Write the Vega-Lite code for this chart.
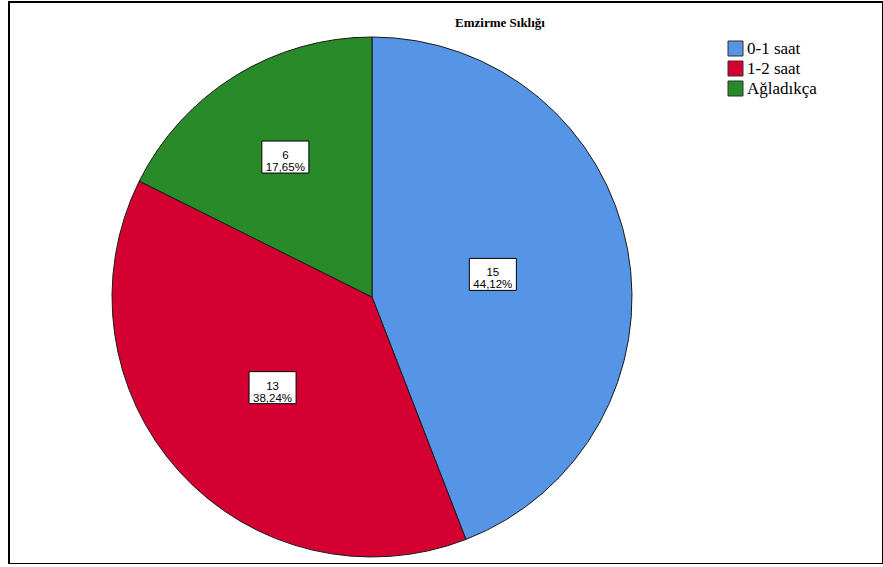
{
  "$schema": "https://vega.github.io/schema/vega-lite/v6.json",
  "autosize": {"type": "none"},
  "padding": {"left": 9, "top": 2, "right": 0, "bottom": 0},
  "width": 874,
  "height": 562,
  "background": "white",
  "title": {
    "text": "Emzirme Sıklığı",
    "font": "Liberation Serif",
    "fontSize": 13,
    "fontWeight": "bold",
    "color": "#000000",
    "anchor": "middle",
    "frame": "group",
    "baseline": "alphabetic",
    "offset": -38,
    "dx": 54
  },
  "data": {
    "values": [
      {"kategori": "0-1 saat", "sayi": 15},
      {"kategori": "1-2 saat", "sayi": 13},
      {"kategori": "Ağladıkça", "sayi": 6}
    ]
  },
  "transform": [
    {"joinaggregate": [{"op": "sum", "field": "sayi", "as": "toplam"}]},
    {"window": [{"op": "sum", "field": "sayi", "as": "kumulatif"}], "frame": [null, 0]},
    {"calculate": "2 * PI * (datum.kumulatif - datum.sayi) / datum.toplam", "as": "a0"},
    {"calculate": "2 * PI * datum.kumulatif / datum.toplam", "as": "a1"},
    {"calculate": "(datum.a0 + datum.a1) / 2", "as": "orta"},
    {"calculate": "datum.a1 - datum.a0", "as": "aci"},
    {"calculate": "4 * sin(datum.aci / 2) / (3 * datum.aci)", "as": "rm"},
    {"calculate": "datum.rm * sin(datum.orta)", "as": "lx"},
    {"calculate": "datum.rm * cos(datum.orta)", "as": "ly"},
    {"calculate": "replace(format(datum.sayi / datum.toplam * 100, '.2f'), '.', ',') + '%'", "as": "yuzde"},
    {"calculate": "[datum.sayi + '', datum.yuzde]", "as": "etiket"}
  ],
  "layer": [
    {
      "mark": {
        "type": "arc",
        "outerRadius": {"expr": "scale('x', 1) - scale('x', 0)"},
        "stroke": "#1a1a1a",
        "strokeWidth": 1
      },
      "encoding": {
        "x": {
          "datum": 0,
          "type": "quantitative",
          "scale": {"domain": [-1.3962, 1.9654], "nice": false, "zero": false},
          "axis": null
        },
        "y": {
          "datum": 0,
          "type": "quantitative",
          "scale": {"domain": [-1.0269, 1.1346], "nice": false, "zero": false},
          "axis": null
        },
        "theta": {"field": "a0", "type": "quantitative", "scale": null},
        "theta2": {"field": "a1"},
        "color": {
          "field": "kategori",
          "type": "nominal",
          "scale": {
            "domain": ["0-1 saat", "1-2 saat", "Ağladıkça"],
            "range": ["#5694e6", "#d50032", "#288a28"]
          },
          "legend": {
            "orient": "none",
            "legendX": 718,
            "legendY": 38,
            "title": null,
            "symbolType": "square",
            "symbolSize": 225,
            "symbolStrokeColor": "#333333",
            "symbolStrokeWidth": 1,
            "symbolOpacity": 1,
            "labelFont": "Liberation Serif",
            "labelFontSize": 17,
            "labelColor": "#000000",
            "labelOffset": 3,
            "rowPadding": 1
          }
        }
      }
    },
    {
      "mark": {
        "type": "point",
        "shape": "M-1.47,-1H1.47V1H-1.47Z",
        "size": 1024,
        "filled": true,
        "fill": "#ffffff",
        "stroke": "#000000",
        "strokeWidth": 1,
        "opacity": 1
      },
      "encoding": {
        "x": {"field": "lx", "type": "quantitative"},
        "y": {"field": "ly", "type": "quantitative"}
      }
    },
    {
      "mark": {
        "type": "text",
        "font": "Liberation Sans",
        "fontSize": 11.5,
        "lineHeight": 12,
        "align": "center",
        "baseline": "middle",
        "dy": -1,
        "color": "#000000"
      },
      "encoding": {
        "x": {"field": "lx", "type": "quantitative"},
        "y": {"field": "ly", "type": "quantitative"},
        "text": {"field": "etiket", "type": "nominal"}
      }
    }
  ],
  "config": {
    "view": {"stroke": "#000000", "strokeWidth": 2}
  }
}
